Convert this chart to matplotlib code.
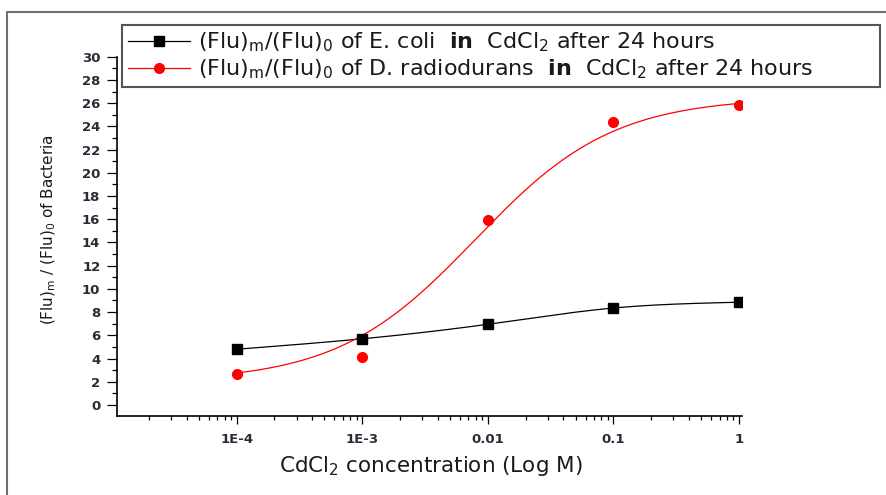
import numpy as np
import matplotlib
matplotlib.use('Agg')
import matplotlib.pyplot as plt
from matplotlib.lines import Line2D
from matplotlib.ticker import FixedLocator, FixedFormatter, LogLocator, MultipleLocator, NullFormatter

plt.rcParams['font.family'] = ['DejaVu Sans']

# Data
conc = [1e-4, 1e-3, 1e-2, 1e-1, 1]
ecoli = [4.8, 5.7, 6.95, 8.35, 8.85]
radio = [2.7, 4.15, 15.9, 24.4, 25.8]
# Boltzmann curve drawn for D. radiodurans (A1, A2, log x0, dx)
radio_fit = [2.0, 26.5, -2.1, 0.55]
tick_vals = [1e-4, 1e-3, 1e-2, 1e-1, 1]
tick_labels = ['1E-4', '1E-3', '0.01', '0.1', '1']
label_ecoli = r'(Flu)$_\mathrm{m}$/(Flu)$_\mathrm{0}$ of E. coli  $\mathbf{in}$  CdCl$_\mathrm{2}$ after 24 hours'
label_radio = r'(Flu)$_\mathrm{m}$/(Flu)$_\mathrm{0}$ of D. radiodurans  $\mathbf{in}$  CdCl$_\mathrm{2}$ after 24 hours'


# natural cubic spline through the points (log x)
def natural_spline(x, y, xs):
    x = np.asarray(x, float)
    y = np.asarray(y, float)
    n = len(x)
    h = np.diff(x)
    A = np.zeros((n, n))
    r = np.zeros(n)
    A[0, 0] = A[-1, -1] = 1
    for i in range(1, n - 1):
        A[i, i - 1] = h[i - 1]
        A[i, i] = 2 * (h[i - 1] + h[i])
        A[i, i + 1] = h[i]
        r[i] = 3 * ((y[i + 1] - y[i]) / h[i] - (y[i] - y[i - 1]) / h[i - 1])
    c = np.linalg.solve(A, r)
    b = (y[1:] - y[:-1]) / h - h * (2 * c[:-1] + c[1:]) / 3
    d = (c[1:] - c[:-1]) / (3 * h)
    idx = np.clip(np.searchsorted(x, xs) - 1, 0, n - 2)
    dx = xs - x[idx]
    return y[idx] + b[idx] * dx + c[idx] * dx ** 2 + d[idx] * dx ** 3


def boltzmann(xs, a1, a2, x0, w):
    return a2 + (a1 - a2) / (1 + np.exp((xs - x0) / w))


lx = np.log10(conc)
xs = np.linspace(lx[0], lx[-1], 300)
ecoli_curve = natural_spline(lx, ecoli, xs)
radio_curve = boltzmann(xs, *radio_fit)

W, H = 886, 495
fig = plt.figure(figsize=(W / 100, H / 100), dpi=100)
ax = fig.add_axes([117 / W, 1 - 416 / H, (742 - 117) / W, (416 - 56.7) / H])

ax.plot(10 ** xs, ecoli_curve, color='black', lw=0.9)
ax.plot(10 ** xs, radio_curve, color='#ff0000', lw=0.9)
ax.plot(conc, ecoli, 's', color='black', ms=6.5, ls='none')
ax.plot(conc, radio, 'o', color='#ff0000', ms=7, ls='none')

ax.set_xscale('log')
ax.set_xlim(10 ** -4.953, 10 ** 0.024)
ax.set_ylim(-0.95, 30)

ax.xaxis.set_major_locator(FixedLocator(tick_vals))
ax.xaxis.set_major_formatter(FixedFormatter(tick_labels))
ax.xaxis.set_minor_locator(LogLocator(base=10, subs=np.arange(2, 10)))
ax.xaxis.set_minor_formatter(NullFormatter())
ax.yaxis.set_major_locator(MultipleLocator(2))
ax.yaxis.set_minor_locator(MultipleLocator(1))

for s in ['top', 'right']:
    ax.spines[s].set_visible(False)
for s in ['left', 'bottom']:
    ax.spines[s].set_linewidth(1.2)

tick_col = '#2b2b38'
ax.tick_params(axis='y', which='major', length=7, width=0.9, pad=5, labelsize=9.5, labelcolor=tick_col)
ax.tick_params(axis='y', which='minor', length=3.5, width=0.9)
ax.tick_params(axis='x', which='major', length=5.5, width=0.9, pad=7, labelsize=9.5, labelcolor=tick_col)
ax.tick_params(axis='x', which='minor', length=3, width=0.9)
for t in ax.get_xticklabels() + ax.get_yticklabels():
    t.set_fontweight('bold')

ax.set_xlabel(r'CdCl$_\mathrm{2}$ concentration (Log M)', fontsize=15.5, color='#1a1a1a')
ax.xaxis.set_label_coords(0.502, -0.105)
ax.set_ylabel(r'(Flu)$_\mathrm{m}$ / (Flu)$_\mathrm{0}$ of Bacteria', fontsize=11, color='#1a1a1a')
ax.yaxis.set_label_coords(-0.094, 0.52)

handles = [
    Line2D([], [], color='black', lw=0.9, marker='s', ms=6.5),
    Line2D([], [], color='#ff0000', lw=0.9, marker='o', ms=7),
]
leg = fig.legend(handles, [label_ecoli, label_radio], loc='upper left',
                 bbox_to_anchor=(122 / W, 1 - 25 / H, (880 - 122) / W, 0),
                 bbox_transform=fig.transFigure, mode='expand', borderaxespad=0,
                 fontsize=16, frameon=True, fancybox=False, framealpha=1,
                 handlelength=2.8, handletextpad=0.35, labelspacing=0.15,
                 borderpad=0.25, numpoints=1)
leg.get_frame().set_edgecolor('#555555')
leg.get_frame().set_linewidth(1.5)
for t in leg.get_texts():
    t.set_color('#1a1a1a')

# outer frame (top and left edges visible)
fig.add_artist(Line2D([7 / W, 7 / W, 1], [0, 1 - 12 / H, 1 - 12 / H],
                      transform=fig.transFigure, color='#707070', lw=1.5))

fig.savefig('out.png', dpi=100)
